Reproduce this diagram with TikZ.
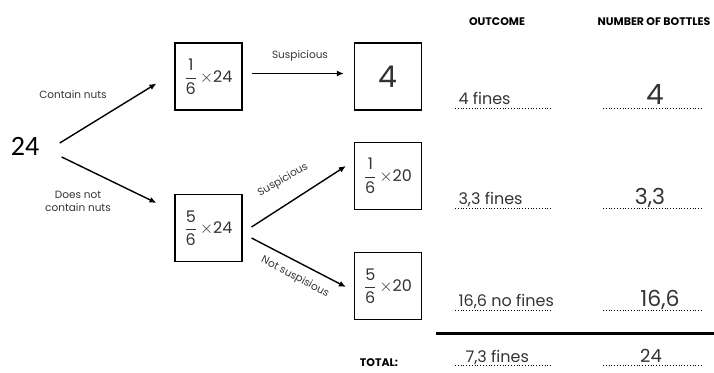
\documentclass[tikz,border=0pt]{standalone}
\usepackage{fontspec}
\setmainfont{Poppins}
\newfontfamily\numfont{Carlito}
\usetikzlibrary{arrows.meta}
\newcommand{\hfr}[2]{$\displaystyle\frac{\hbox{#1}}{\hbox{#2}}$}
\begin{document}
\begin{tikzpicture}[x=1pt,y=-1pt,
 box/.style={draw, line width=1.1pt, minimum width=67pt, minimum height=67pt, inner sep=0pt, font=\fontsize{16}{18}\selectfont, text=black!80},
 arr/.style={-{Latex[length=7pt,width=6pt]}, line width=1.4pt},
 lbl/.style={font=\fontsize{10.5}{13}\selectfont, text=black!80, align=center, inner sep=1pt},
 head/.style={font=\fontsize{11}{13}\selectfont\bfseries},
 hand/.style={font=\fontsize{16}{18}\selectfont, text=black!80, anchor=base west},
 handc/.style={font=\fontsize{22}{24}\selectfont, text=black!80, anchor=base},
 dots/.style={dotted, line width=0.8pt}]
\useasboundingbox (0,0) rectangle (714,372);
% tree
\node[font=\numfont\fontsize{28}{32}\selectfont] (root) at (25,146) {24};
\node[box] (b1) at (208.5,76.5) {\hfr{1}{6}\,$\times$24};
\node[box] (b2) at (208.5,228) {\hfr{5}{6}\,$\times$24};
\node[box] (b3) at (388,76.5) {\fontsize{30}{32}\selectfont 4};
\node[box] (b4) at (388,176) {\hfr{1}{6}\,$\times$20};
\node[box] (b5) at (388,286) {\hfr{5}{6}\,$\times$20};
\draw[arr] ([shift={(17,-3)}]root.east) -- ([shift={(-18,7)}]b1.west);
\draw[arr] ([shift={(19,11)}]root.east) -- ([shift={(-18,-25)}]b2.west);
\draw[arr] ([shift={(9,-3)}]b1.east) -- ([shift={(-10,-3)}]b3.west);
\draw[arr] ([shift={(9,-1)}]b2.east) -- ([shift={(-8,-10)}]b4.west);
\draw[arr] ([shift={(9,10)}]b2.east) -- ([shift={(-8,1)}]b5.west);
\node[lbl] (l1) at (73,95) {Contain nuts};
\node[lbl] (l2) at (78,201) {Does not\\contain nuts};
\node[lbl] (l3) at (300,56) {Suspicious};
\node[lbl, rotate=30] (l4) at (283,180) {Suspicious};
\node[lbl, rotate=-28] (l5) at (295,277) {Not suspisious};
% table
\node[head] (h1) at (497,22) {OUTCOME};
\node[head] (h2) at (654,22) {NUMBER OF BOTTLES};
\foreach \y in {108,208,310,365}{
  \draw[dots] (455,\y) -- (552,\y);
  \draw[dots] (603,\y) -- (702,\y);
}
\draw[line width=3pt] (436,333) -- (714,333);
\node[hand] (o1) at (455,104) {4 fines};
\node[hand] (o2) at (455,204) {3,3 fines};
\node[hand] (o3) at (455,306) {16,6 no fines};
\node[hand] (o4) at (462,362) {7,3 fines};
\node[handc] (n1) at (655,104) {\fontsize{28}{30}\selectfont 4};
\node[handc] (n2) at (650,204) {3,3};
\node[handc] (n3) at (660,306) {16,6};
\node[handc] (n4) at (651,362) {\fontsize{18}{20}\selectfont 24};
\node[head] (tot) at (379,363) {TOTAL:};
\end{tikzpicture}
\end{document}
